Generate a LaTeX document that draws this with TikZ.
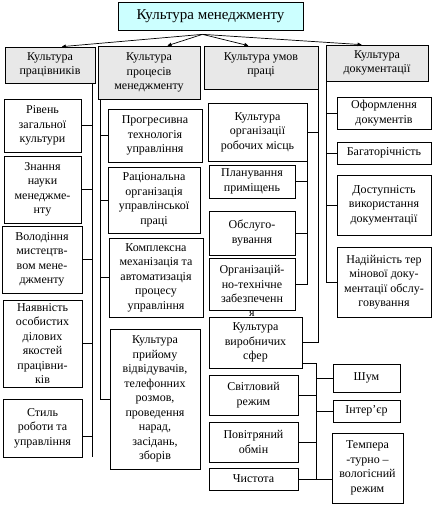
\documentclass[tikz,border=0pt]{standalone}
\usepackage{fontspec}
\setmainfont{Liberation Serif}
\usetikzlibrary{arrows.meta,calc}

\definecolor{titlecyan}{HTML}{CCFFFF}
\definecolor{grpgray}{HTML}{E8E8E8}

\begin{document}
\begin{tikzpicture}[x=1pt,y=-1pt,>={Triangle[length=4pt,width=3.5pt]},line width=0.7pt,font=\fontsize{12}{14.5}\selectfont]
\tikzstyle{box}=[draw,inner sep=0pt,align=center]
\tikzstyle{grp}=[box,fill=grpgray]
\tikzstyle{item}=[box,fill=white]
\useasboundingbox (0,0) rectangle (432,505);
\node[box,fill=titlecyan,minimum width=185pt,minimum height=28pt,font=\fontsize{15}{18}\selectfont] (title) at (210.5,16) {Культура менеджменту};
\node[grp,minimum width=90pt,minimum height=36pt] (b1) at (50,65) {Культура\\працівників};
\node[grp,minimum width=102pt,minimum height=53pt] (b2) at (149,72.5) {Культура\\процесів\\менеджменту};
\node[grp,minimum width=114pt,minimum height=43pt,text depth=8pt] (b3) at (261,67.5) {Культура умов\\праці};
\node[grp,minimum width=102pt,minimum height=36pt] (b4) at (377,63) {Культура\\документації};
\coordinate (apex) at ([xshift=-8pt,yshift=-4pt]title.south);
\draw[->] (apex) -- ($(b1.north west)!0.63!(b1.north east)$);
\draw[->] (apex) -- ($(b2.north west)!0.68!(b2.north east)$);
\draw[->] (apex) -- ($(b3.north west)!0.39!(b3.north east)$);
\draw[->] (apex) -- ($(b4.north west)!0.35!(b4.north east)$);
% працівники
\node[item,minimum width=77pt,minimum height=53pt] (c1a) at (42.5,125.5) {Рівень\\загальної\\культури};
\node[item,minimum width=77pt,minimum height=67pt] (c1b) at (42.5,189.5) {Знання\\науки\\менеджме-\\нту};
\node[item,minimum width=80pt,minimum height=67pt] (c1c) at (42,259.5) {Володіння\\мистецтв-\\вом мене-\\джменту};
\node[item,minimum width=79pt,minimum height=87pt] (c1d) at (42.5,343.5) {Наявність\\особистих\\ділових\\якостей\\працівни-\\ків};
\node[item,minimum width=79pt,minimum height=58pt] (c1e) at (42.5,428) {Стиль\\роботи та\\управління};
\coordinate (l1) at ([xshift=-3pt]b1.south east);
\draw (l1) -- (l1 |- c1e.south east) ++(0,-21) coordinate (e1) -- (e1 -| c1e.east);
\foreach \n in {c1a,c1b,c1c,c1d} \draw (\n.east) -- (\n.east -| l1);
% процеси
\node[item,minimum width=94pt,minimum height=53pt] (c2a) at (155,135.5) {Прогресивна\\технологія\\управління};
\node[item,minimum width=92pt,minimum height=66pt] (c2b) at (154,200) {Раціональна\\організація\\управлінської\\праці};
\node[item,minimum width=94pt,minimum height=79pt] (c2c) at (156,277.5) {Комплексна\\механізація та\\автоматизація\\процесу\\управління};
\node[item,minimum width=90pt,minimum height=140pt] (c2d) at (155,399) {Культура\\прийому\\відвідувачів,\\телефонних\\розмов,\\проведення\\нарад,\\засідань,\\зборів};
\coordinate (l2) at ([xshift=3pt]b2.south west);
\draw (l2) -- (l2 |- c2d.west) -- (c2d.west);
\foreach \n in {c2a,c2b,c2c} \draw (\n.west) -- (\n.west -| l2);
% умови праці
\node[item,minimum width=99pt,minimum height=58pt] (c3a) at (257.5,132) {Культура\\організації\\робочих місць};
\node[item,minimum width=86pt,minimum height=33pt] (c3a1) at (252,181.5) {Планування\\приміщень};
\node[item,minimum width=86pt,minimum height=44pt] (c3a2) at (252,233) {Обслуго-\\вування};
\node[item,minimum width=86pt,minimum height=52pt,label={[inner sep=0pt]below:я}] (c3a3) at (252,284) {Організацій-\\но-технічне\\забезпеченн};
\node[item,minimum width=93pt,minimum height=51pt] (c3b) at (255.5,342.5) {Культура\\виробничих\\сфер};
\draw (b3.south east) -- (b3.south east |- c3b.east) -- (c3b.east);
\draw (c3a.east) -- (c3a.east -| b3.south east);
\draw (c3a.south east) -- (c3a.south east |- c3a3.east) -- (c3a3.east);
\foreach \n in {c3a1,c3a2} \draw (\n.east) -- (\n.east -| c3a.south east);
\node[item,minimum width=89pt,minimum height=40pt] (c3b1) at (253.5,395) {Світловий\\режим};
\node[item,minimum width=89pt,minimum height=40pt] (c3b2) at (253.5,442) {Повітряний\\обмін};
\node[item,minimum width=89pt,minimum height=22pt] (c3b3) at (253.5,479) {Чистота};
\node[item,minimum width=67pt,minimum height=28pt] (c3b4) at (366.5,378) {Шум};
\node[item,minimum width=67pt,minimum height=22pt] (c3b5) at (366.5,411) {Інтер’єр};
\node[item,minimum width=71pt,minimum height=70pt] (c3b6) at (367.5,468) {Темпера\\-турно –\\вологісний\\режим};
\coordinate (l3) at ([xshift=14pt,yshift=5pt]c3b.south east);
\draw ([yshift=5pt]c3b.south east) -- (l3) -- (l3 |- c3b3.east);
\foreach \n in {c3b1,c3b2} \draw (\n.east) -- (\n.east -| l3);
\foreach \n in {c3b4,c3b5} \draw (l3 |- \n.west) -- (\n.west);
\draw (c3b3.east) -- (c3b3.east -| c3b6.west);
% документація
\node[item,minimum width=94pt,minimum height=32pt] (c4a) at (384,113) {Оформлення\\документів};
\node[item,minimum width=94pt,minimum height=22pt] (c4b) at (384,153) {Багаторічність};
\node[item,minimum width=94pt,minimum height=60pt] (c4c) at (384,205) {Доступність\\використання\\документації};
\node[item,minimum width=94pt,minimum height=70pt] (c4d) at (384,282) {Надійність тер\\мінової доку-\\ментації обслу-\\говування};
\coordinate (l4) at ([xshift=1pt]b4.south west);
\draw (l4) -- (l4 |- c4d.west) -- (c4d.west);
\foreach \n in {c4a,c4b,c4c} \draw (\n.west) -- (\n.west -| l4);
\end{tikzpicture}
\end{document}
